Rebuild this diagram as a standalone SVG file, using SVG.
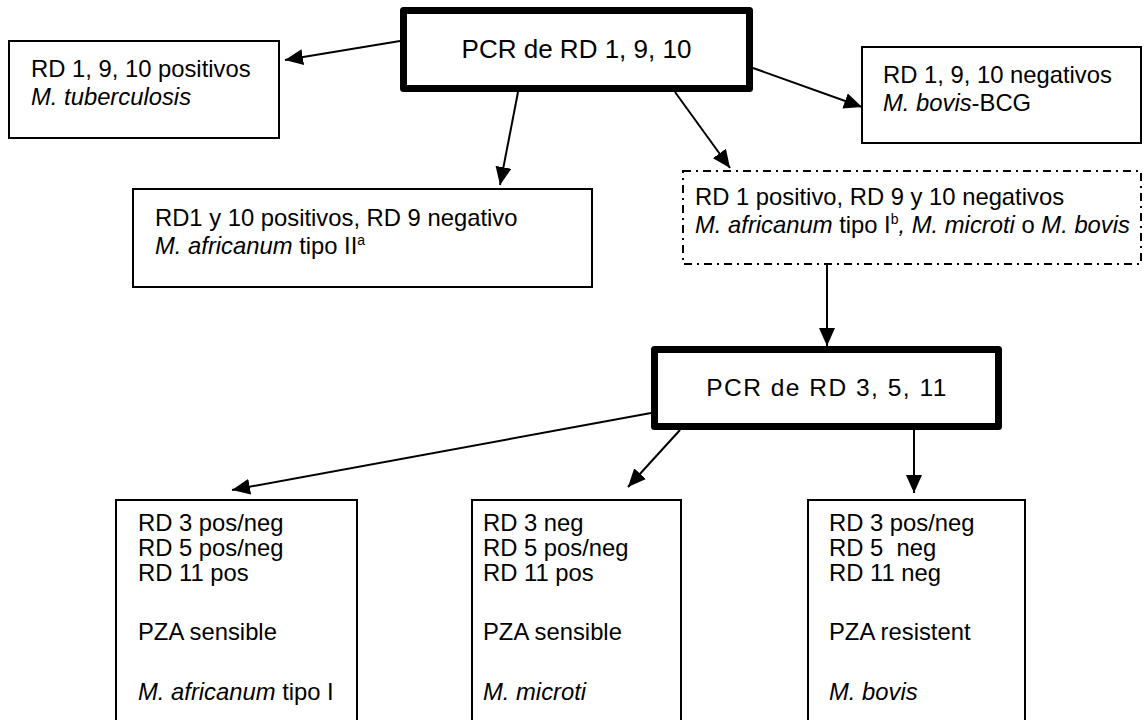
<svg xmlns="http://www.w3.org/2000/svg" width="1145" height="720" viewBox="0 0 1145 720">
<defs>
<marker id="ah" markerUnits="userSpaceOnUse" markerWidth="18" markerHeight="16" refX="18" refY="8" orient="auto">
<path d="M0,0 L18,8 L0,16 z" fill="#000"/>
</marker>
<style>
.box{fill:#fff;stroke:#000;stroke-width:2}
.thick{fill:#fff;stroke:#000;stroke-width:7;stroke-linejoin:round}
.dash{fill:#fff;stroke:#000;stroke-width:2;stroke-dasharray:8 5 2 5}
.t{font-family:"Liberation Sans",Arial,sans-serif;font-size:23.8px;fill:#000}
.pcr{font-family:"Liberation Sans",Arial,sans-serif;font-size:26px;fill:#000}
.pcr2{font-family:"Liberation Sans",Arial,sans-serif;font-size:24.5px;letter-spacing:1.5px;fill:#000}
.i{font-style:italic}
.sup{font-size:14px}
.c{stroke:#000;stroke-width:2;fill:none;marker-end:url(#ah)}
</style>
</defs>
<g id="connectors">
<path class="c" d="M400,41 L285,60"/>
<path class="c" d="M518,92 L500,185"/>
<path class="c" d="M675,92 L730,168"/>
<path class="c" d="M753,68 L862,107"/>
<path class="c" d="M827,264 L827,346"/>
<path class="c" d="M651,413 L232,490"/>
<path class="c" d="M680,430 L628,487"/>
<path class="c" d="M914,430 L914,493"/>
</g>
<g id="pcr1">
<rect class="thick" x="403.5" y="10.5" width="346" height="78"/>
<text class="pcr" x="576.5" y="58" text-anchor="middle">PCR de RD 1, 9, 10</text>
</g>
<g id="tuberculosis">
<rect class="box" x="9" y="41" width="270" height="97"/>
<text class="t" x="31" y="77">RD 1, 9, 10 positivos</text>
<text class="t i" x="31" y="105">M. tuberculosis</text>
</g>
<g id="bcg">
<rect class="box" x="862" y="47" width="279" height="96"/>
<text class="t" x="883" y="83">RD 1, 9, 10 negativos</text>
<text class="t" x="883" y="111"><tspan class="i">M. bovis</tspan>-BCG</text>
</g>
<g id="africanum2">
<rect class="box" x="133" y="189" width="459" height="98"/>
<text class="t" x="155" y="226">RD1 y 10 positivos, RD 9 negativo</text>
<text class="t" x="155" y="254"><tspan class="i">M. africanum</tspan> tipo II<tspan class="sup" dy="-9">a</tspan></text>
</g>
<g id="rd1pos">
<rect class="dash" x="683" y="171" width="458" height="93"/>
<text class="t" x="695" y="205">RD 1 positivo, RD 9 y 10 negativos</text>
<text class="t" x="695" y="233"><tspan class="i">M. africanum</tspan> tipo I<tspan class="sup" dy="-9">b</tspan><tspan class="i" dy="9">, M. microti</tspan> o <tspan class="i">M. bovis</tspan></text>
</g>
<g id="pcr2">
<rect class="thick" x="654.5" y="349.5" width="344" height="77"/>
<text class="pcr2" x="827" y="396" text-anchor="middle">PCR de RD 3, 5, 11</text>
</g>
<g id="africanum1">
<rect class="box" x="116" y="500" width="241" height="240"/>
<text class="t" x="138" y="531">RD 3 pos/neg</text>
<text class="t" x="138" y="556">RD 5 pos/neg</text>
<text class="t" x="138" y="581">RD 11 pos</text>
<text class="t" x="138" y="640">PZA sensible</text>
<text class="t" x="138" y="700"><tspan class="i">M. africanum</tspan> tipo I</text>
</g>
<g id="microti">
<rect class="box" x="472" y="500" width="209" height="240"/>
<text class="t" x="483" y="531">RD 3 neg</text>
<text class="t" x="483" y="556">RD 5 pos/neg</text>
<text class="t" x="483" y="581">RD 11 pos</text>
<text class="t" x="483" y="640">PZA sensible</text>
<text class="t i" x="483" y="700">M. microti</text>
</g>
<g id="bovis">
<rect class="box" x="808" y="500" width="217" height="240"/>
<text class="t" x="829" y="531">RD 3 pos/neg</text>
<text class="t" x="829" y="556" xml:space="preserve">RD 5  neg</text>
<text class="t" x="829" y="581">RD 11 neg</text>
<text class="t" x="829" y="640">PZA resistent</text>
<text class="t i" x="829" y="700">M. bovis</text>
</g>
</svg>
